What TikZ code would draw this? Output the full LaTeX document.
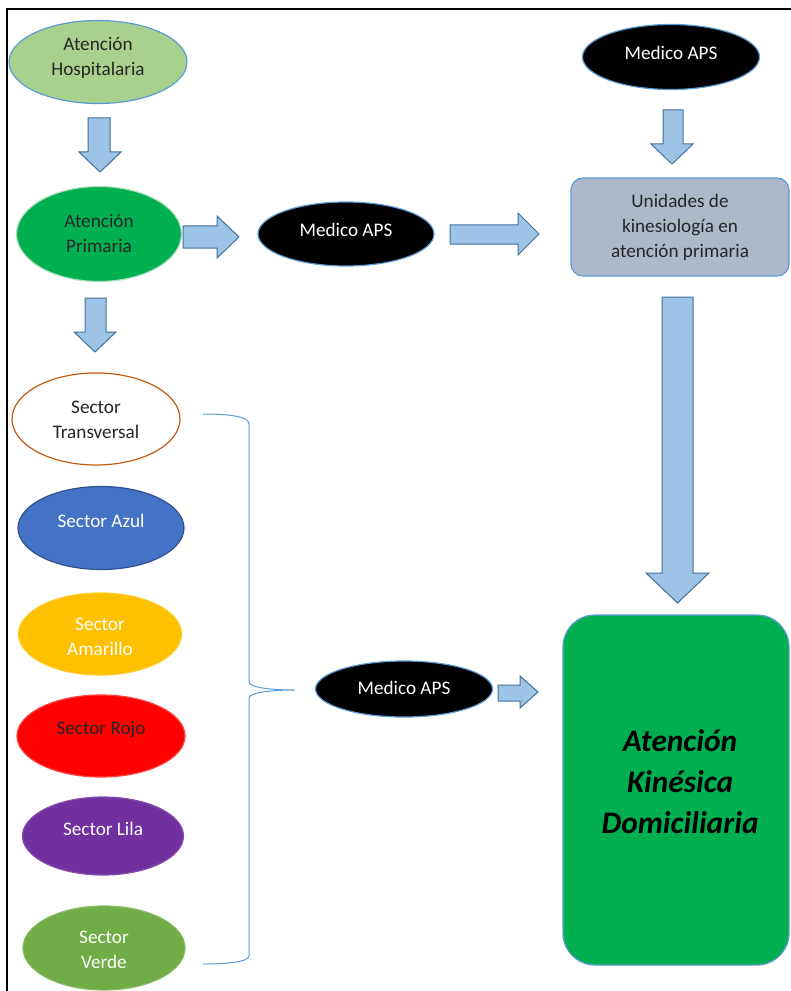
\documentclass[tikz,border=0pt]{standalone}
\usepackage{fontspec}
\setmainfont{Carlito}
\usetikzlibrary{shapes.geometric}
\definecolor{hospfill}{HTML}{A9D18E}
\definecolor{bordblue}{HTML}{5B9BD5}
\definecolor{primfill}{HTML}{00B050}
\definecolor{primbord}{HTML}{B4DEC0}
\definecolor{arrfill}{HTML}{9DC3E6}
\definecolor{arrbord}{HTML}{41719C}
\definecolor{unidfill}{HTML}{ADB9CA}
\definecolor{transbord}{HTML}{C55A11}
\definecolor{azulfill}{HTML}{4472C4}
\definecolor{azulbord}{HTML}{2F528F}
\definecolor{amarfill}{HTML}{FFC000}
\definecolor{rojofill}{HTML}{FF0000}
\definecolor{lilafill}{HTML}{7030A0}
\definecolor{verdefill}{HTML}{70AD47}
\definecolor{darktext}{HTML}{262626}
\tikzset{
  ell/.style={ellipse, inner sep=0pt, line width=0.9pt,
    font=\fontsize{14.4pt}{18.75pt}\selectfont},
  medico/.style={ell, fill=black, draw=bordblue, text=white},
  blk/.style={fill=arrfill, draw=arrbord, line width=0.75pt, line join=miter},
  bracestyle/.style={draw=bordblue, line width=0.75pt},
  frame/.style={draw=black, line width=1.6pt}
}
\newcommand\BlkDown[7]{\draw[blk] (#1,#3) -- (#2,#3) -- (#2,#4) -- (#6,#4) -- ({(#5+#6)/2},#7) -- (#5,#4) -- (#1,#4) -- cycle;}
\newcommand\BlkRight[7]{\draw[blk] (#3,#1) -- (#3,#2) -- (#4,#2) -- (#4,#6) -- (#7,{(#5+#6)/2}) -- (#4,#5) -- (#4,#1) -- cycle;}
\newcommand\OneL[2]{\raisebox{#1}[0pt][0pt]{#2}}
\newcommand\MulL[2]{\raisebox{#1}[0pt][0pt]{\begin{tabular}[b]{@{}c@{}}#2\end{tabular}}}
\begin{document}
\begin{tikzpicture}[x=0.75pt,y=-0.75pt]
\useasboundingbox (0,0) rectangle (790,991);
% frame
\draw[frame] (7,992) -- (7,9) -- (791,9);
% left column
\node[ell, fill=hospfill, draw=bordblue, text=darktext, minimum width=178*0.75pt, minimum height=83*0.75pt] (hosp) at (98,62) {\MulL{-10pt}{Atención\\Hospitalaria}};
\node[ell, fill=primfill, draw=primbord, text=darktext, minimum width=165*0.75pt, minimum height=95*0.75pt] (prim) at (99,234) {\MulL{-13.5pt}{Atención\\Primaria}};
\node[medico, minimum width=176*0.75pt, minimum height=64*0.75pt] (med2) at (346,234) {\OneL{-1.8pt}{Medico APS}};
\node[medico, minimum width=177*0.75pt, minimum height=65*0.75pt] (med1) at (671,57) {\OneL{-2.2pt}{Medico APS}};
\node[rectangle, rounded corners=9pt, fill=unidfill, draw=bordblue, line width=0.9pt, text=darktext, align=center,
  minimum width=218*0.75pt, minimum height=98*0.75pt, font=\fontsize{14.4pt}{18.75pt}\selectfont] (unid) at (680,227) {Unidades de\\kinesiología en\\atención primaria};
\node[rectangle, rounded corners=24pt, fill=primfill, draw=bordblue, line width=0.9pt, text=black,
  minimum width=226*0.75pt, minimum height=350*0.75pt, font=\fontsize{23.5pt}{30.75pt}\selectfont\bfseries\itshape] (domi) at (676,790) {\hspace*{6pt}\MulL{-32.7pt}{Atención\\Kinésica\\Domiciliaria}};
% sectors
\node[ell, fill=white, draw=transbord, text=darktext, minimum width=168*0.75pt, minimum height=92*0.75pt] (trans) at (96,419) {\MulL{-14.75pt}{Sector\\Transversal}};
\node[ell, fill=azulfill, draw=azulbord, text=white, minimum width=166*0.75pt, minimum height=83*0.75pt] (azul) at (101,528) {\OneL{0.3pt}{Sector Azul}};
\node[ell, fill=amarfill, draw=amarfill!85!white, text=white, minimum width=163*0.75pt, minimum height=82*0.75pt] (amar) at (100,634) {\MulL{-16.25pt}{Sector\\Amarillo}};
\node[ell, fill=rojofill, draw=rojofill!75!white, text=darktext, minimum width=168*0.75pt, minimum height=82*0.75pt] (rojo) at (101,736) {\OneL{1.2pt}{Sector Rojo}};
\node[ell, fill=lilafill, draw=lilafill!85!white, text=white, minimum width=161*0.75pt, minimum height=78*0.75pt] (lila) at (103,836) {\OneL{0.6pt}{Sector Lila}};
\node[ell, fill=verdefill, draw=verdefill!85!white, text=white, minimum width=162*0.75pt, minimum height=84*0.75pt] (verde) at (104,948) {\MulL{-15.5pt}{Sector\\Verde}};
\node[medico, minimum width=177*0.75pt, minimum height=56*0.75pt] (med3) at (404,689) {\OneL{-3.8pt}{Medico APS}};
% block arrows
\BlkDown{88}{110}{118}{152}{79}{121}{172}
\BlkDown{85}{106}{298}{332}{74}{116}{352}
\BlkDown{663}{683}{110}{144}{651}{693}{164}
\BlkDown{662}{693}{297}{573}{646}{709}{603}
\BlkRight{226}{248}{183}{217}{216}{258}{239}
\BlkRight{225}{244}{450}{518}{213}{255}{539}
\BlkRight{685}{701}{498}{520}{676}{708}{538}
% brace
\coordinate (btop) at (203,414);
\coordinate (btip) at (295,690);
\coordinate (bbot) at (203,964);
\draw[bracestyle] (btop) .. controls (232,414) and (249,417) .. (249,424) -- (249,682)
  .. controls (249,687) and (268,690) .. (btip)
  .. controls (268,690) and (249,693) .. (249,698) -- (249,956)
  .. controls (249,961) and (232,964) .. (bbot);
\end{tikzpicture}
\end{document}
